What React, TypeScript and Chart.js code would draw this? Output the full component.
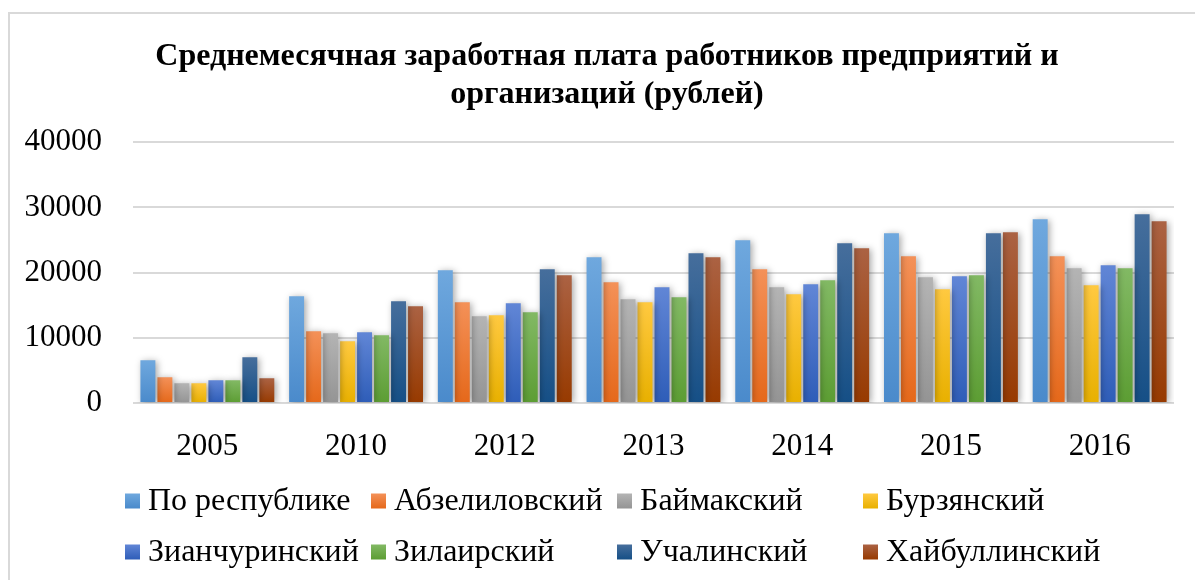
import React, { useEffect, useRef } from "react";
import { Chart, registerables } from "chart.js";

Chart.register(...registerables);

const titleLines = [
  "Среднемесячная заработная плата работников предприятий и",
  "организаций (рублей)",
];

const years = ["2005", "2010", "2012", "2013", "2014", "2015", "2016"];

const poRespublike = [6550, 16370, 20350, 22350, 24950, 26030, 28170];
const abzelilovsky = [3940, 11000, 15440, 18510, 20510, 22500, 22500];
const baimaksky = [3020, 10690, 13300, 15900, 17750, 19280, 20660];
const burzyansky = [3020, 9460, 13450, 15440, 16670, 17440, 18050];
const zianchurinsky = [3480, 10840, 15290, 17750, 18200, 19430, 21130];
const zilairsky = [3480, 10380, 13910, 16210, 18820, 19590, 20660];
const uchalinsky = [7010, 15600, 20510, 22960, 24490, 26030, 28940];
const khaibullinsky = [3790, 14830, 19590, 22350, 23730, 26180, 27870];

const seriesNames = [
  "По республике",
  "Абзелиловский",
  "Баймакский",
  "Бурзянский",
  "Зианчуринский",
  "Зилаирский",
  "Учалинский",
  "Хайбуллинский",
];
const seriesValues = [
  poRespublike,
  abzelilovsky,
  baimaksky,
  burzyansky,
  zianchurinsky,
  zilairsky,
  uchalinsky,
  khaibullinsky,
];
// [top colour, bottom colour] of the gradient fill
const seriesColors: [string, string][] = [
  ["#6fa8de", "#4a8acb"],
  ["#f49158", "#e5681a"],
  ["#b4b4b4", "#949494"],
  ["#ffc940", "#e8b000"],
  ["#6186d6", "#2e5db8"],
  ["#82b964", "#5c9d33"],
  ["#466e9c", "#154f86"],
  ["#ab6243", "#973a00"],
];

const yTicks = [0, 10000, 20000, 30000, 40000];

const FONT = "'Liberation Serif', 'Times New Roman', serif";

function gradientFill(chart: any, top: number, bottom: number, c: [string, string]) {
  const g = chart.ctx.createLinearGradient(0, top, 0, bottom);
  g.addColorStop(0, c[0]);
  g.addColorStop(1, c[1]);
  return g;
}

const shadowPlugin = {
  id: "barShadow",
  beforeDatasetsDraw(chart: any) {
    const ctx = chart.ctx;
    ctx.save();
    ctx.shadowColor = "rgba(0,0,0,0.35)";
    ctx.shadowBlur = 7;
    ctx.shadowOffsetX = 2;
    ctx.shadowOffsetY = 1;
  },
  afterDatasetsDraw(chart: any) {
    chart.ctx.restore();
  },
};

// centre the title over the whole chart frame, as in the source
const titleShiftPlugin = {
  id: "titleShift",
  afterLayout(chart: any) {
    const t = chart.titleBlock;
    if (t) {
      t.left += 17;
      t.width = t.right - t.left;
    }
  },
};

const gridLegendPlugin = {
  id: "gridLegend",
  afterDraw(chart: any) {
    const ctx = chart.ctx;
    const area = chart.chartArea;
    const x0 = area.left - 8;
    const colW = 246;
    const y0 = area.bottom + 98;
    const rowH = 51;
    const box = 15;
    ctx.save();
    chart.data.datasets.forEach((ds: any, i: number) => {
      const col = i % 4;
      const row = Math.floor(i / 4);
      const x = x0 + col * colW;
      const y = y0 + row * rowH;
      const c = seriesColors[i];
      ctx.fillStyle = gradientFill(chart, y - box / 2, y + box / 2, c);
      ctx.fillRect(x, y - box / 2, box, box);
      ctx.fillStyle = "#000";
      ctx.font = `32px ${FONT}`;
      ctx.textBaseline = "middle";
      ctx.textAlign = "left";
      ctx.fillText(ds.label, x + 23, y + 1);
    });
    ctx.restore();
  },
};

export default function App() {
  const ref = useRef<HTMLCanvasElement | null>(null);

  useEffect(() => {
    if (!ref.current) return;
    const datasets = seriesNames.map((name, i) => ({
      label: name,
      data: seriesValues[i],
      borderWidth: 0,
      backgroundColor: (ctx: any) => {
        const c = seriesColors[i];
        if (ctx.type !== "data" || !ctx.chart.chartArea) return c[0];
        const ys = ctx.chart.scales.y;
        const top = ys.getPixelForValue(ctx.raw);
        const bottom = ys.getPixelForValue(0);
        return gradientFill(ctx.chart, top, bottom, c);
      },
    }));

    const chart = new Chart(ref.current, {
      type: "bar",
      data: { labels: years, datasets },
      plugins: [titleShiftPlugin, shadowPlugin, gridLegendPlugin],
      options: {
        animation: false,
        responsive: false,
        maintainAspectRatio: false,
        layout: { padding: { left: 13, right: 30, top: 0, bottom: 117 } },
        datasets: {
          bar: { categoryPercentage: 0.914, barPercentage: 0.88 },
        },
        plugins: {
          legend: { display: false },
          tooltip: { enabled: false },
          title: {
            display: true,
            text: titleLines,
            color: "#000",
            font: { family: FONT, size: 32, weight: "bold", lineHeight: 1.19 },
            padding: { top: 24, bottom: 28 },
          },
        },
        scales: {
          x: {
            grid: { display: false },
            border: { display: false },
            ticks: {
              color: "#000",
              font: { family: FONT, size: 31 },
              padding: 17,
            },
            afterFit: (s: any) => {
              s.height = 60;
            },
          },
          y: {
            min: 0,
            max: 40000,
            afterBuildTicks: (s: any) => {
              s.ticks = yTicks.map((v) => ({ value: v }));
            },
            grid: { color: "#d9d9d9", lineWidth: 2, drawTicks: false },
            border: { display: false },
            ticks: {
              color: "#000",
              font: { family: FONT, size: 31 },
              padding: 31,
              callback: (v: any) => String(v),
            },
            afterFit: (s: any) => {
              s.width = 110;
            },
          },
        },
      },
    });
    return () => chart.destroy();
  }, []);

  return (
    <div
      style={{
        position: "fixed",
        left: 0,
        top: 0,
        width: 1195,
        height: 580,
        overflow: "hidden",
        background: "#fff",
      }}
    >
      <div
        style={{
          position: "absolute",
          left: 8,
          top: 12,
          width: 1300,
          height: 700,
          borderLeft: "2px solid #d9d9d9",
          borderTop: "2px solid #d9d9d9",
        }}
      />
      <canvas
        ref={ref}
        width={1194}
        height={566}
        style={{ position: "absolute", left: 10, top: 14, width: 1194, height: 566 }}
      />
    </div>
  );
}
